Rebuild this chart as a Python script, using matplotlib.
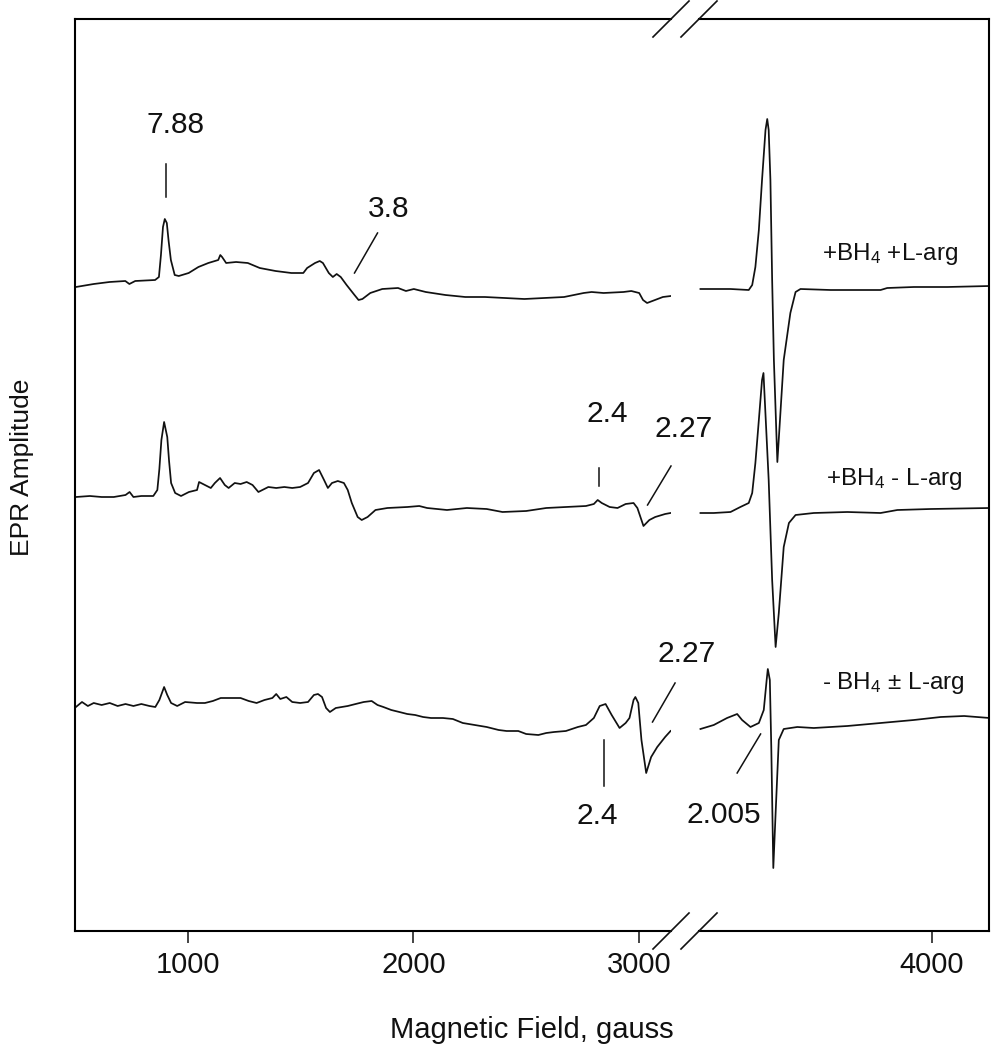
import matplotlib
matplotlib.use("Agg")
import matplotlib.pyplot as plt
from matplotlib.lines import Line2D

plt.rcParams.update({
    "font.family": ["Liberation Sans", "DejaVu Sans"],
    "mathtext.fontset": "custom",
    "mathtext.rm": "Liberation Sans",
    "mathtext.it": "Liberation Sans:italic",
    "axes.linewidth": 1.5,
})

INK = "#111111"

# ---- spectra (field in gauss, amplitude in arb. units
#      relative to each trace's own baseline) ---------------------------------
# +BH4 +L-arg
field_a_low = [504, 583, 653, 723, 741, 767, 855, 872, 881, 890, 898, 907, 915,
               925, 942, 960, 1004, 1047, 1091, 1135, 1144, 1152, 1170, 1214,
               1266, 1319, 1389, 1459, 1512, 1529, 1564, 1585, 1599, 1625, 1643,
               1660, 1678, 1704, 1739, 1757, 1774, 1809, 1862, 1932, 1967, 2002,
               2055, 2142, 2230, 2317, 2405, 2492, 2580, 2668, 2755, 2790, 2843,
               2931, 2966, 3001, 3018, 3036, 3071, 3106, 3141]
amp_a_low = [0, 3, 5, 6, 3, 6, 7, 10, 32, 60, 68, 64, 46, 27, 12, 11, 14, 20,
             24, 27, 32, 30, 24, 25, 24, 19, 16, 14, 14, 19, 24, 26, 24, 14, 10,
             13, 10, 2, -8, -13, -12, -6, -2, -1, -4, -2, -5, -8, -10, -10, -11,
             -12, -11, -10, -6, -5, -6, -5, -4, -6, -13, -16, -13, -10, -9]
field_a_high = [3200, 3246, 3304, 3367, 3379, 3390, 3402, 3413, 3425, 3431,
                3436, 3442, 3448, 3454, 3466, 3488, 3511, 3529, 3546, 3650,
                3823, 3846, 3938, 4054, 4200]
amp_a_high = [-2, -2, -2, -3, 2, 20, 57, 107, 157, 168, 157, 107, 7, -73, -175,
              -73, -26, -5, -2, -3, -3, -1, 0, 0, 1]

# +BH4 - L-arg
field_b_low = [504, 566, 618, 672, 724, 742, 759, 794, 847, 865, 874, 883, 895,
               909, 917, 926, 944, 970, 1005, 1041, 1050, 1076, 1102, 1120,
               1143, 1164, 1181, 1208, 1234, 1261, 1287, 1313, 1357, 1392, 1428,
               1463, 1498, 1533, 1559, 1582, 1604, 1621, 1639, 1665, 1692, 1709,
               1727, 1753, 1771, 1797, 1832, 1885, 1973, 2026, 2061, 2149, 2237,
               2325, 2395, 2500, 2589, 2676, 2765, 2800, 2817, 2835, 2870, 2905,
               2941, 2976, 2993, 3011, 3020, 3046, 3072, 3116, 3140]
amp_b_low = [0, 1, 0, 0, 2, 5, 0, 1, 1, 7, 28, 57, 75, 60, 36, 14, 4, 1, 5, 7,
             15, 12, 9, 14, 19, 12, 9, 14, 13, 15, 12, 5, 10, 9, 10, 9, 10, 14,
             24, 27, 17, 9, 14, 16, 14, 7, -6, -20, -23, -20, -13, -11, -10, -9,
             -11, -13, -11, -12, -15, -14, -11, -10, -9, -7, -3, -6, -10, -11,
             -7, -6, -11, -23, -29, -23, -20, -17, -16]
field_b_high = [3200, 3246, 3304, 3338, 3367, 3379, 3390, 3402, 3413, 3418,
                3436, 3448, 3460, 3471, 3488, 3506, 3529, 3592, 3708, 3823,
                3881, 3996, 4200]
amp_b_high = [-16, -16, -15, -10, -6, 4, 34, 77, 117, 124, 17, -83, -150, -116,
              -50, -26, -18, -16, -15, -16, -13, -12, -11]

# - BH4 +/- L-arg
field_c_low = [504, 531, 557, 583, 618, 654, 689, 724, 759, 794, 830, 856, 874,
               895, 909, 926, 953, 988, 1041, 1076, 1111, 1146, 1181, 1234, 1270,
               1305, 1340, 1375, 1392, 1410, 1437, 1463, 1498, 1533, 1559, 1577,
               1595, 1613, 1630, 1656, 1709, 1744, 1780, 1815, 1841, 1867, 1902,
               1938, 1973, 2008, 2043, 2078, 2131, 2175, 2219, 2272, 2325, 2378,
               2413, 2465, 2500, 2554, 2589, 2624, 2676, 2729, 2765, 2800, 2826,
               2852, 2879, 2914, 2941, 2958, 2976, 2984, 2997, 3011, 3032, 3054,
               3081, 3116, 3140]
amp_c_low = [-1, 4, 0, 3, 1, 3, 0, 2, 0, 2, 0, -1, 6, 19, 11, 3, 0, 4, 3, 3,
             5, 8, 8, 8, 5, 3, 6, 8, 12, 7, 9, 4, 3, 4, 11, 12, 9, -2, -6, -2,
             0, 2, 4, 5, 1, -1, -4, -6, -8, -9, -11, -12, -12, -13, -17, -19,
             -21, -24, -25, -25, -28, -29, -27, -26, -25, -21, -19, -12, 0, 2,
             -9, -22, -17, -12, 6, 9, 3, -34, -67, -51, -41, -31, -25]
field_c_high = [3200, 3246, 3292, 3327, 3344, 3373, 3402, 3419, 3429, 3433,
                3440, 3445, 3452, 3460, 3471, 3488, 3535, 3592, 3708, 3823,
                3938, 4031, 4112, 4200]
amp_c_high = [-23, -19, -12, -8, -14, -21, -17, -4, 26, 37, 26, -41, -162,
              -107, -34, -23, -21, -22, -20, -17, -14, -11, -10, -12]

trace_labels = [r"+BH$_{\mathrm{4}}$ +L-arg", r"+BH$_{\mathrm{4}}$ - L-arg",
                r"- BH$_{\mathrm{4}}$ $\pm$ L-arg"]

# ---- layout (pixel geometry of the original) -------------------------------
W, H = 991, 1050
offsets = [644, 434, 225]          # vertical stacking of the three traces
YMAX = 912
X1_PX = (75, 671)
X2_PX = (699, 989)
Y_PX = (19, 931)
LOW_LIM = (500, 3142)
HIGH_LIM = (3195, 4198)

fig = plt.figure(figsize=(W / 100, H / 100), dpi=100)
bottom = 1 - Y_PX[1] / H
height = (Y_PX[1] - Y_PX[0]) / H
ax1 = fig.add_axes([X1_PX[0] / W, bottom, (X1_PX[1] - X1_PX[0]) / W, height])
ax2 = fig.add_axes([X2_PX[0] / W, bottom, (X2_PX[1] - X2_PX[0]) / W, height])
for ax in (ax1, ax2):
    ax.patch.set_visible(False)

lows = [(field_a_low, amp_a_low), (field_b_low, amp_b_low), (field_c_low, amp_c_low)]
highs = [(field_a_high, amp_a_high), (field_b_high, amp_b_high),
         (field_c_high, amp_c_high)]
for (f, a), off in zip(lows, offsets):
    ax1.plot(f, [v + off for v in a], color=INK, lw=1.25)
for (f, a), off in zip(highs, offsets):
    ax2.plot(f, [v + off for v in a], color=INK, lw=1.25)

ax1.set_xlim(*LOW_LIM)
ax2.set_xlim(*HIGH_LIM)
for ax in (ax1, ax2):
    ax.set_ylim(0, YMAX)
    ax.set_yticks([])
    ax.tick_params(axis="x", direction="out", length=8.6, width=1.1,
                   labelsize=21, pad=6, colors=INK)
ax1.set_xticks([1000, 2000, 3000])
ax2.set_xticks([4000])
ax1.spines["right"].set_visible(False)
ax2.spines["left"].set_visible(False)

# axis-break slashes
for xp in (X1_PX[1], X2_PX[0]):
    for yp in Y_PX:
        yf = H - yp
        fig.add_artist(Line2D([(xp - 18) / W, (xp + 18) / W],
                              [(yf - 18) / H, (yf + 18) / H],
                              color=INK, lw=1.2, transform=fig.transFigure))

# trace labels
label_x = [3857, 3871, 3868]
label_y = [677, 452, 248]
for s, x, y in zip(trace_labels, label_x, label_y):
    ax2.text(x, y, s, fontsize=17.5, ha="center", va="center", color=INK)

# g-value markers
num_fs = 21.5
marks_low = [
    ("7.88", (945, 806), [903, 903], [767, 734]),
    ("3.8", (1890, 722), [1841, 1739], [698, 658]),
    ("2.4", (2858, 517), [2823, 2823], [463, 445]),
    ("2.27", (3199, 502), [3142, 3038], [465, 426]),
    ("2.4", (2814, 115), [2843, 2843], [191, 145]),
    ("2.27", (3213, 277), [3160, 3060], [248, 209]),
]
for s, (tx, ty), lx, ly in marks_low:
    ax1.text(tx, ty, s, fontsize=num_fs, ha="center", va="center", color=INK,
             zorder=5)
    ax1.plot(lx, ly, color=INK, lw=1.1, clip_on=False)
ax2.text(3280, 116, "2.005", fontsize=num_fs, ha="center", va="center", color=INK)
ax2.plot([3408, 3327], [197, 158], color=INK, lw=1.1, clip_on=False)

fig.text(532 / W, 1 - 1030 / H, "Magnetic Field, gauss", fontsize=21,
         ha="center", va="center", color=INK)
fig.text(22 / W, 1 - 467 / H, "EPR Amplitude", fontsize=19, rotation=90,
         ha="center", va="center", color=INK)

fig.savefig("out.png", dpi=100)
